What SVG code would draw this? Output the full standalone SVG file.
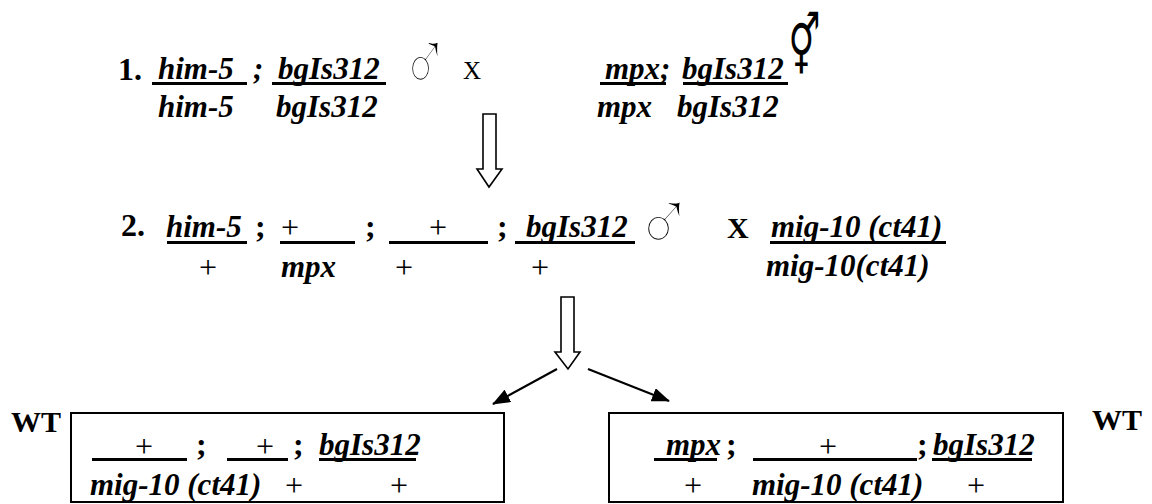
<svg xmlns="http://www.w3.org/2000/svg" width="1152" height="504" viewBox="0 0 1152 504">
<style>
.g{font-family:"Liberation Serif","Times New Roman",serif;font-weight:bold;font-style:italic;font-size:31px;fill:#000}
.b{font-family:"Liberation Serif","Times New Roman",serif;font-weight:bold;font-size:32px;fill:#000}
.bx{font-family:"Liberation Serif","Times New Roman",serif;font-weight:bold;font-size:30px;fill:#000}
.r{font-family:"Liberation Serif","Times New Roman",serif;font-size:32px;fill:#000}
.rx{font-family:"Liberation Serif","Times New Roman",serif;font-size:25px;fill:#000}
.sym{font-family:"Liberation Serif","DejaVu Sans",serif;font-size:90px;fill:#000;stroke:#fff;stroke-width:2.4}
.herm{font-family:"DejaVu Sans",sans-serif;font-size:44px;fill:#000}
.u{fill:#000}
.box{fill:#fff;stroke:#000;stroke-width:2}
.blk{fill:#fff;stroke:#000;stroke-width:1.6}
.ln{stroke:#000;stroke-width:2.2;fill:none}
</style>
<defs>
<marker id="ah" markerUnits="userSpaceOnUse" markerWidth="18" markerHeight="14" refX="17" refY="7" orient="auto">
<path d="M0,0 L18,7 L0,14 z" fill="#000"/>
</marker>
</defs>

<g id="row1">
<text class="b" x="118" y="80">1.</text>
<text class="g" x="158" y="79">him-5</text><rect class="u" x="152" y="82" width="95" height="3"/>
<text class="g" x="253" y="79">;</text>
<text class="g" x="278" y="79">bgIs312</text><rect class="u" x="272" y="82" width="114" height="3"/>
<g transform="translate(400.7,92) scale(0.72,1)"><text class="sym" x="0" y="0">♂</text></g>
<text class="rx" x="463" y="79">X</text>
<text class="g" x="605" y="79">mpx;</text><rect class="u" x="600" y="82" width="66" height="3"/>
<text class="g" x="682" y="79">bgIs312</text><rect class="u" x="683" y="82" width="105" height="3"/>
<g transform="translate(788.4,66) scale(0.8,1.35)"><text class="herm" x="0" y="0">⚥</text></g>
<text class="g" x="158" y="117">him-5</text>
<text class="g" x="276" y="117">bgIs312</text>
<text class="g" x="597" y="117">mpx</text>
<text class="g" x="677" y="117">bgIs312</text>
</g>

<g id="row2">
<text class="b" x="121" y="236">2.</text>
<text class="g" x="166" y="237">him-5</text><rect class="u" x="167" y="241" width="80" height="3"/>
<text class="b" x="255" y="237">;</text>
<text class="r" x="281" y="238">+</text><rect class="u" x="280" y="241" width="75" height="3"/>
<text class="b" x="365" y="237">;</text>
<text class="r" x="429" y="238">+</text><rect class="u" x="389" y="241" width="99" height="3"/>
<text class="b" x="497" y="237">;</text>
<text class="g" x="526" y="237">bgIs312</text><rect class="u" x="515" y="241" width="120" height="3"/>
<g transform="translate(634,252) scale(0.89,1)"><text class="sym" x="0" y="0">♂</text></g>
<text class="bx" x="727" y="238">X</text>
<text class="g" x="771" y="237">mig-10 (ct41)</text><rect class="u" x="770" y="241" width="176" height="3"/>
<text class="r" x="199" y="278">+</text>
<text class="g" x="281" y="277">mpx</text>
<text class="r" x="395" y="278">+</text>
<text class="r" x="531" y="278">+</text>
<text class="g" x="766" y="276">mig-10(ct41)</text>
</g>

<g id="connectors">
<polygon class="blk" points="483,114 496,114 496,169 502,169 489,187 477,169 483,169"/>
<polygon class="blk" points="561,297 574,297 574,352 580,352 568,369 555,352 561,352"/>
<line class="ln" x1="557" y1="369" x2="493" y2="404" marker-end="url(#ah)"/>
<line class="ln" x1="588" y1="369" x2="669" y2="401" marker-end="url(#ah)"/>
</g>

<g id="wt-left">
<text class="bx" x="11" y="432">WT</text>
</g>
<g id="box-left">
<rect class="box" x="71" y="413" width="433" height="89"/>
<rect class="u" x="92" y="458" width="95" height="3"/><text class="r" x="135" y="457">+</text>
<text class="b" x="196" y="455">;</text>
<rect class="u" x="227" y="458" width="61" height="3"/><text class="r" x="256" y="457">+</text>
<text class="b" x="293" y="455">;</text>
<text class="g" x="319" y="455">bgIs312</text><rect class="u" x="319" y="458" width="97" height="3"/>
<text class="g" x="90" y="495">mig-10 (ct41)</text>
<text class="r" x="285" y="496">+</text>
<text class="r" x="390" y="496">+</text>
</g>

<g id="box-right">
<rect class="box" x="609" y="413" width="454" height="89"/>
<text class="g" x="666" y="455">mpx</text><rect class="u" x="654" y="458" width="63" height="3"/>
<text class="b" x="726" y="455">;</text>
<rect class="u" x="753" y="458" width="164" height="3"/><text class="r" x="819" y="457">+</text>
<text class="b" x="917" y="455">;</text>
<text class="g" x="933" y="455">bgIs312</text><rect class="u" x="932" y="458" width="100" height="3"/>
<text class="r" x="684" y="496">+</text>
<text class="g" x="752" y="495">mig-10 (ct41)</text>
<text class="r" x="967" y="496">+</text>
</g>
<g id="wt-right">
<text class="bx" x="1092" y="430">WT</text>
</g>
</svg>
